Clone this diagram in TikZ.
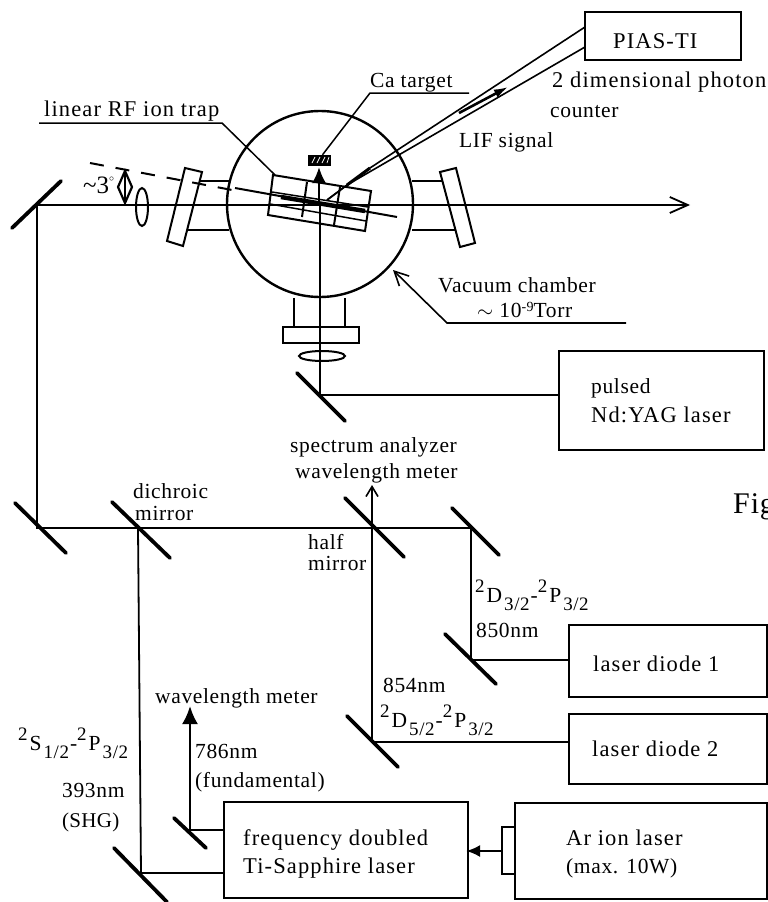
\documentclass[tikz,border=0pt]{standalone}
\usepackage{fontspec}
\setmainfont[LetterSpace=3]{Liberation Serif}
\usetikzlibrary{arrows.meta,calc}
\tikzset{
 beam/.style={line width=1.8pt},
 mirror/.style={line width=3.8pt,line cap=round},
 boxx/.style={draw,line width=2.4pt},
 lbl/.style={anchor=west,inner sep=0pt,text height=14pt,text depth=0pt,font=\fontsize{21.5}{24}\selectfont},
 lblw/.style={lbl,font=\fontsize{22.5}{24}\selectfont\addfontfeature{LetterSpace=5}},
 lbln/.style={lbl,font=\fontsize{21}{24}\selectfont\addfontfeature{LetterSpace=1.5}},
 part/.style={line width=2pt},
}
\newcommand{\supx}[1]{\raisebox{10pt}{\fontsize{19}{20}\selectfont #1}\kern2pt}
\newcommand{\subx}[1]{\kern2pt\raisebox{-8pt}{\fontsize{19}{20}\selectfont #1}\kern1pt}
\begin{document}
\begin{tikzpicture}[x=1pt,y=-1pt]
\useasboundingbox[fill=white] (0,0) rectangle (768,902);
% junction coordinates
\coordinate (mTL) at (37,205);
\coordinate (mBL) at (37,528);
\coordinate (mD) at (138,528);
\coordinate (mH) at (372,528);
\coordinate (mR) at (471,528);
\coordinate (m850) at (471,660);
\coordinate (m854) at (372,742);
\coordinate (mS) at (141,873);
\coordinate (mF) at (190,830);
\coordinate (mY) at (320,395);
\coordinate (beamend) at (690,205);
\coordinate (hmtop) at (372,485);
\coordinate (wmtop) at (190,706);
\coordinate (cen) at (320,204);
% boxes
\draw[boxx] (585,12) rectangle (741,60);
\draw[boxx] (559,351) rectangle (764,450);
\draw[boxx] (569,625) rectangle (767,697);
\draw[boxx] (569,714) rectangle (767,784);
\draw[boxx] (224,802) rectangle (468,898);
\draw[boxx] (515,803) rectangle (767,899);
\draw[boxx] (502,827) rectangle (515,874);
\coordinate (yagW) at (559,395);
\coordinate (ld1W) at (569,660);
\coordinate (ld2W) at (569,742);
\coordinate (tiA) at (224,873);
\coordinate (tiB) at (224,830);
\coordinate (tiE) at (466,851);
\coordinate (arW) at (502,851);
% chamber
\node[circle,draw,line width=2.4pt,minimum size=186pt,inner sep=0pt] (chamber) at (cen) {};
% flanges
\draw[part] (200,181) -- (229,181) (188,230) -- (229,230);
\draw[part] (412,181) -- (444,181) (412,230) -- (455,230);
\draw[part,fill=white] (185,168) -- (202,172) -- (183,246) -- (167,241) -- cycle;
\draw[part,fill=white] (440,172) -- (456,168) -- (475,243) -- (460,247) -- cycle;
\draw[part] (294,298) -- (294,327) (345,298) -- (345,327);
\draw[part] (283,327) rectangle (359,343);
% beams
\draw[beam,-{Straight Barb[length=18pt,width=16pt,line width=1.8pt]}] (mTL) -- (beamend);
\draw[beam] (mTL) -- (mBL) -- (mR) -- (m850) -- (ld1W);
\draw[beam] (mD) -- (mS) -- (tiA);
\draw[beam] (m854) -- (ld2W);
\draw[beam,-{Straight Barb[length=10pt,width=12pt,line width=1.6pt]}] (m854) -- (hmtop);
\draw[line width=2.4pt,-{Latex[length=18pt,width=16pt]}] (mF) -- (wmtop);
\draw[beam] (mF) -- (tiB);
\draw[beam] (yagW) -- (mY) -- (cen);
\draw[line width=2.5pt,-{Latex[length=16pt,width=14pt]}] (319,205) -- (319,167);
\draw[line width=2.6pt,-{Latex[length=14pt,width=12pt]}] (arW) -- (tiE);
% mirrors
\draw[mirror] (12,228) -- (61,181);
\draw[mirror] (15,503) -- (66,553);
\draw[mirror] (112,502) -- (170,558);
\draw[mirror] (345,498) -- (404,557);
\draw[mirror] (452,508) -- (499,555);
\draw[mirror] (445,634) -- (496,684);
\draw[mirror] (347,716) -- (398,767);
\draw[mirror] (114,848) -- (167,902);
\draw[mirror] (174,818) -- (206,848);
\draw[mirror] (297,373) -- (345,421);
% lenses
\draw[part] (142,207) ellipse (6 and 19);
\draw[part] (322,356) ellipse (23 and 5);
% angle mark
\draw[line width=2pt,dash pattern=on 14pt off 12pt] (90,163) -- (232,190);
\draw[line width=2.2pt] (125,170) -- (125,203);
\draw[line width=2.2pt] (125,171) -- (118,187) -- (125,203) -- (132,187) -- cycle;
% trap
\draw[part] (273,175) -- (371,191) -- (365,231) -- (268,215) -- cycle;
\draw[part] (307,182) -- (302,217) (340,187) -- (334,225);
\draw[line width=2pt] (235,188) -- (397,217);
\draw[line width=4.5pt] (281,197) -- (365,211);
\draw[line width=1.5pt] (272,192) -- (368,207) (270,204) -- (366,221);
% target
\node[draw=black,fill=black,minimum width=22pt,minimum height=10pt,inner sep=0pt] (target) at (319.5,160) {};
\draw[white,line width=.7pt] (312,163) -- (315,157) (317,163) -- (320,157) (322,163) -- (325,157) (327,163) -- (329,157);
% leaders
\coordinate (capL) at (370,93);
\coordinate (capR) at (469,93);
\draw[line width=1.5pt] (target.north) ++(3,0) -- (capL) -- (capR);
\coordinate (trL) at (39,123);
\coordinate (trK) at (222,123);
\coordinate (trE) at (275,175);
\draw[line width=1.5pt] (trL) -- (trK) -- (trE);
\coordinate (vR) at (626,323);
\coordinate (vK) at (447,323);
\coordinate (vT) at (393,270);
\draw[line width=1.6pt,-{Straight Barb[length=14pt,width=14pt,line width=1.6pt]}] (vR) -- (vK) -- (vT);
% LIF light pipe
\coordinate (piaU) at (585,27);
\coordinate (piaL) at (585,47);
\draw[line width=1.6pt] (piaU) -- (370,168);
\draw[line width=1.6pt] (piaL) -- (347,185) -- (327,200);
\draw[line width=1.6pt] (370,168) -- (327,200);
\draw[line width=3pt] (347,185) -- (370,168);
\draw[line width=2.6pt,-{Latex[length=14pt,width=9pt]}] (459,113) -- (508,87);
% labels
\node[lblw] (t1) at (44,109) {linear RF ion trap};
\node[lbl] (t2) at (370,80) {Ca target};
\node[lblw] (t3) at (613,41) {PIAS-TI};
\node[lblw] (t4) at (552,80) {2 dimensional photon};
\node[lbl] (t5) at (550,110) {counter};
\node[lbl] (t6) at (459,140) {LIF signal};
\node[lbl,font=\fontsize{25}{26}\selectfont\addfontfeature{LetterSpace=0}] (t7) at (83,186) {\textasciitilde3\raisebox{6pt}{\fontsize{14}{14}\selectfont$^\circ$}};
\node[lbl] (t8) at (438,285) {Vacuum chamber};
\node[lbl] (t9) at (477,310) {$\sim$ 10\raisebox{6pt}{\fontsize{14}{14}\selectfont -9}Torr};
\node[lbl] (t10) at (591,386) {pulsed};
\node[lblw] (t11) at (591,415) {Nd:YAG laser};
\node[lbl] (t12) at (290,445) {spectrum analyzer};
\node[lbl] (t13) at (295,471) {wavelength meter};
\node[lbl] (t14) at (133,491) {dichroic};
\node[lbl] (t15) at (135,513) {mirror};
\node[lbl] (t16) at (308,542) {half};
\node[lbl] (t17) at (308,563) {mirror};
\node[lbl,font=\fontsize{30}{32}\selectfont] (t18) at (733,506) {Fig};
\node[lbl] (t19) at (475,595) {\supx{2}D\subx{3/2}-\supx{2}P\subx{3/2}};
\node[lbl] (t20) at (476,630) {850nm};
\node[lblw] (t21) at (593,664) {laser diode 1};
\node[lbl] (t22) at (383,685) {854nm};
\node[lbl] (t23) at (380,720) {\supx{2}D\subx{5/2}-\supx{2}P\subx{3/2}};
\node[lblw] (t24) at (592,749) {laser diode 2};
\node[lbl] (t25) at (155,696) {wavelength meter};
\node[lbl] (t26) at (195,751) {786nm};
\node[lbl] (t27) at (195,780) {(fundamental)};
\node[lbl] (t28) at (18,743) {\supx{2}S\subx{1/2}-\supx{2}P\subx{3/2}};
\node[lbl] (t29) at (62,790) {393nm};
\node[lbln] (t30) at (62,820) {(SHG)};
\node[lblw] (t31) at (243,838) {frequency doubled};
\node[lblw] (t32) at (243,866) {Ti-Sapphire laser};
\node[lblw] (t33) at (566,838) {Ar ion laser};
\node[lbl] (t34) at (566,866) {(max. 10W)};
\end{tikzpicture}
\end{document}
